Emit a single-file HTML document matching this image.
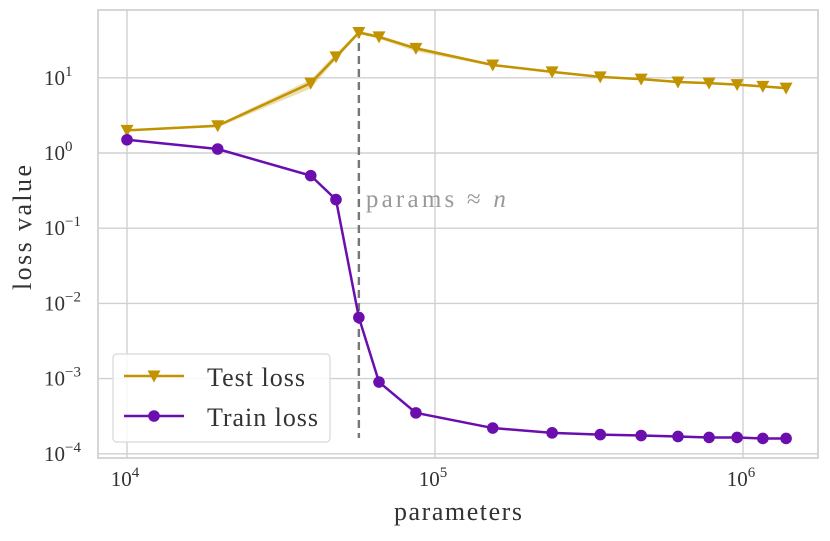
<!DOCTYPE html>
<html><head><meta charset="utf-8"><style>
body{margin:0;background:#fff;width:830px;height:536px;overflow:hidden}
svg text{font-family:"Liberation Serif",serif;fill:#333}
</style></head><body>
<svg id="chart" width="830" height="536" xmlns="http://www.w3.org/2000/svg">
<g id="grid"></g>
<g id="bands"></g>
<g id="series"></g>
<g id="axes"></g>
</svg>
<script>
const params = [10000,19700,39500,47700,56600,65800,86700,154000,240000,344000,467000,615000,776000,957000,1160000,1380000];
const testLoss = [2.0,2.3,8.5,19,40,35,24.6,14.8,12,10.3,9.6,8.8,8.5,8.1,7.7,7.3];
const testLow = [1.95,2.2,7.2,17.5,38,33,22.5,14.2,11.6,10,9.3,8.5,8.2,7.8,7.4,7.0];
const testHigh = [2.05,2.4,9.5,21,42,37,26,15.4,12.4,10.6,9.9,9.1,8.8,8.4,8.0,7.6];
const trainLoss = [1.5,1.13,0.5,0.24,0.0065,0.0009,0.00035,0.00022,0.00019,0.00018,0.000175,0.00017,0.000165,0.000165,0.00016,0.00016];
const xTicks = [4,5,6];
const yTicks = [1,0,-1,-2,-3,-4];
const threshold = 56600;

const NS="http://www.w3.org/2000/svg";
const X0=98,X1=818,Y0=10,Y1=458;
function xs(v){return 127+(Math.log10(v)-4)*308;}
function ys(v){return 153-Math.log10(v)*75.2;}
function mk(tag,attrs,parent){const e=document.createElementNS(NS,tag);for(const k in attrs)e.setAttribute(k,attrs[k]);parent.appendChild(e);return e;}
const grid=document.getElementById('grid'),bands=document.getElementById('bands'),series=document.getElementById('series'),axes=document.getElementById('axes');
mk('rect',{x:X0,y:Y0,width:X1-X0,height:Y1-Y0,fill:'#fff',stroke:'#ccc','stroke-width':1.6},grid);
xTicks.forEach(t=>{const x=xs(Math.pow(10,t));
 const l=mk('line',{x1:x,x2:x,y1:Y0,y2:Y1,stroke:'#d0d0d0','stroke-width':1.4},grid);
 
 const tx=mk('text',{x:x-2,y:486,'font-size':21,'text-anchor':'middle'},axes);
 
 tx.innerHTML='10<tspan dy="-9" font-size="15">'+t+'</tspan>';});
yTicks.forEach(t=>{const y=ys(Math.pow(10,t));
 const l=mk('line',{x1:X0,x2:X1,y1:y,y2:y,stroke:'#d0d0d0','stroke-width':1.4},grid);
 
 const tx=mk('text',{x:44,y:y+7,'font-size':21},axes);
 
 tx.innerHTML='10<tspan dy="-9" font-size="15">'+(t<0?'\u2212'+(-t):t)+'</tspan>';});
let d='M'+params.map((p,i)=>xs(p)+','+ys(testHigh[i])).join('L')+'L'+params.map((p,i)=>xs(p)+','+ys(testLow[i])).reverse().join('L')+'Z';
const b=mk('path',{d:d,fill:'#c29300','fill-opacity':0.3},bands);

const tl=mk('line',{x1:xs(threshold),x2:xs(threshold),y1:30,y2:438,stroke:'#777','stroke-width':2.4,'stroke-dasharray':'8,5'},series);

const tt=mk('text',{x:xs(threshold)+7,y:207,'font-size':25,textLength:140,lengthAdjust:'spacing'},series);

tt.innerHTML='params \u2248 <tspan font-style="italic">n</tspan>';
tt.style.fill='#999';
const tp=mk('polyline',{points:params.map((p,i)=>xs(p)+','+ys(testLoss[i])).join(' '),fill:'none',stroke:'#c29300','stroke-width':2.5},series);

params.forEach((p,i)=>{const x=xs(p),y=ys(testLoss[i]);
 const m=mk('polygon',{points:(x-6.5)+','+(y-5.5)+' '+(x+6.5)+','+(y-5.5)+' '+x+','+(y+6.5),fill:'#c29300'},series);
 });
const rp=mk('polyline',{points:params.map((p,i)=>xs(p)+','+ys(trainLoss[i])).join(' '),fill:'none',stroke:'#6a0fad','stroke-width':2.5},series);

params.forEach((p,i)=>{
 const m=mk('circle',{cx:xs(p),cy:ys(trainLoss[i]),r:5.8,fill:'#6a0fad'},series);
 });
const lg=mk('g',{},axes);
mk('rect',{x:113,y:354,width:217,height:88,rx:4,fill:'#fff','fill-opacity':0.85,stroke:'#ddd','stroke-width':1.4},lg);
mk('line',{x1:124,x2:184,y1:376,y2:376,stroke:'#c29300','stroke-width':2.5},lg);
mk('polygon',{points:'147.5,370.5 160.5,370.5 154,382.5',fill:'#c29300'},lg);
const l1=mk('text',{x:207,y:386,'font-size':26,textLength:98,lengthAdjust:'spacing'},lg);l1.textContent='Test loss';

mk('line',{x1:124,x2:184,y1:416,y2:416,stroke:'#6a0fad','stroke-width':2.5},lg);
mk('circle',{cx:154,cy:416,r:5.8,fill:'#6a0fad'},lg);
const l2=mk('text',{x:207,y:426,'font-size':26,textLength:111,lengthAdjust:'spacing'},lg);l2.textContent='Train loss';

const xt=mk('text',{x:394,y:520,'font-size':26,textLength:128,lengthAdjust:'spacing'},axes);xt.textContent='parameters';

const yt=mk('text',{x:-290,y:31,'font-size':26,textLength:125,lengthAdjust:'spacing',transform:'rotate(-90)'},axes);yt.textContent='loss value';

</script>
</body></html>
